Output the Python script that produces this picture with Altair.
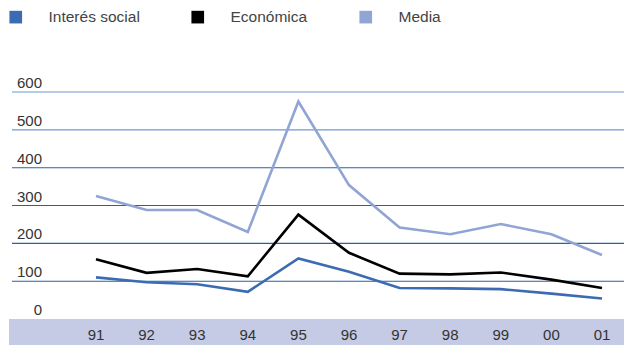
import altair as alt
import pandas as pd

# Years shown along the bottom band
years = ["91", "92", "93", "94", "95", "96", "97", "98", "99", "00", "01"]

# Series values per year
interes_social = [110, 97, 92, 72, 160, 125, 82, 81, 79, 67, 54]
economica = [158, 122, 132, 113, 276, 175, 120, 118, 123, 104, 82]
media = [325, 288, 288, 230, 575, 354, 242, 224, 251, 224, 169]

series_names = ["Interés social", "Económica", "Media"]
series_colors = ["#3d6bb3", "#000000", "#91a5d4"]

# Gridline / y-label values
y_ticks = [0, 100, 200, 300, 400, 500, 600]

rows = []
for name, vals in zip(series_names, [interes_social, economica, media]):
    for i, (yr, v) in enumerate(zip(years, vals)):
        rows.append({"idx": i, "year": yr, "serie": name, "valor": v})
lines_df = pd.DataFrame(rows)
years_df = pd.DataFrame({"idx": list(range(len(years))), "year": years})
ticks_df = pd.DataFrame({"v": y_ticks})
grid_df = pd.DataFrame({"v": [t for t in y_ticks if t > 0]})
keys_df = pd.DataFrame({"clave": series_names})

W, H = 624, 345
x_scale = alt.Scale(domain=[-1.897, 10.435], nice=False, zero=False)
y_scale = alt.Scale(domain=[-68.7, 843.2], nice=False, zero=False)

# Square swatches carrying the legend; drawn first, tucked under the page corner
legend_keys = alt.Chart(keys_df).mark_square(size=1).encode(
    x=alt.value(-20),
    y=alt.value(-20),
    fill=alt.Fill(
        "clave:N",
        scale=alt.Scale(domain=series_names, range=series_colors),
        sort=series_names,
        legend=alt.Legend(
            title=None, orient="none", direction="horizontal",
            legendX=8, legendY=9, padding=0,
            symbolType="square", symbolSize=160, symbolStrokeWidth=0,
            symbolOpacity=1,
            labelFontSize=15.5, labelFont="Liberation Sans", labelColor="#444444",
            labelOffset=25, columnPadding=50,
        ),
    ),
)

band = alt.Chart(pd.DataFrame({"a": [0]})).mark_rect(color="#c6cbe5").encode(
    x=alt.value(9), x2=alt.value(W),
    y=alt.datum(0, scale=y_scale, axis=None), y2=alt.value(H),
)

grid = alt.Chart(grid_df).mark_rule(strokeWidth=1.1).encode(
    y=alt.Y("v:Q", scale=y_scale, axis=None),
    x=alt.value(12), x2=alt.value(W),
    stroke=alt.condition(alt.datum.v >= 500, alt.value("#6c9ad0"), alt.value("#1f63ad")),
)

y_labels = alt.Chart(ticks_df).mark_text(
    align="right", baseline="alphabetic", dy=-4, fontSize=15,
    font="Liberation Sans", color="#333333",
).encode(
    y=alt.Y("v:Q", scale=y_scale, axis=None),
    x=alt.value(42),
    text=alt.Text("v:Q"),
)

x_labels = alt.Chart(years_df).mark_text(
    align="center", baseline="alphabetic", fontSize=15,
    font="Liberation Sans", color="#333333",
).encode(
    x=alt.X("idx:Q", scale=x_scale, axis=None),
    y=alt.value(340),
    text="year:N",
)

lines = alt.Chart(lines_df).mark_line(strokeWidth=2.6).encode(
    x=alt.X("idx:Q", scale=x_scale, axis=None),
    y=alt.Y("valor:Q", scale=y_scale, axis=None),
    color=alt.Color(
        "serie:N",
        scale=alt.Scale(domain=series_names, range=series_colors),
        legend=None,
    ),
    order=alt.Order("idx:Q"),
)

chart = alt.layer(legend_keys, band, grid, y_labels, x_labels, lines).properties(
    width=W, height=H, padding=0,
    autosize=alt.AutoSizeParams(type="none"),
    background="white",
).configure_view(stroke=None)

chart.save("out.html", embed_options={"renderer": "svg", "actions": False})
